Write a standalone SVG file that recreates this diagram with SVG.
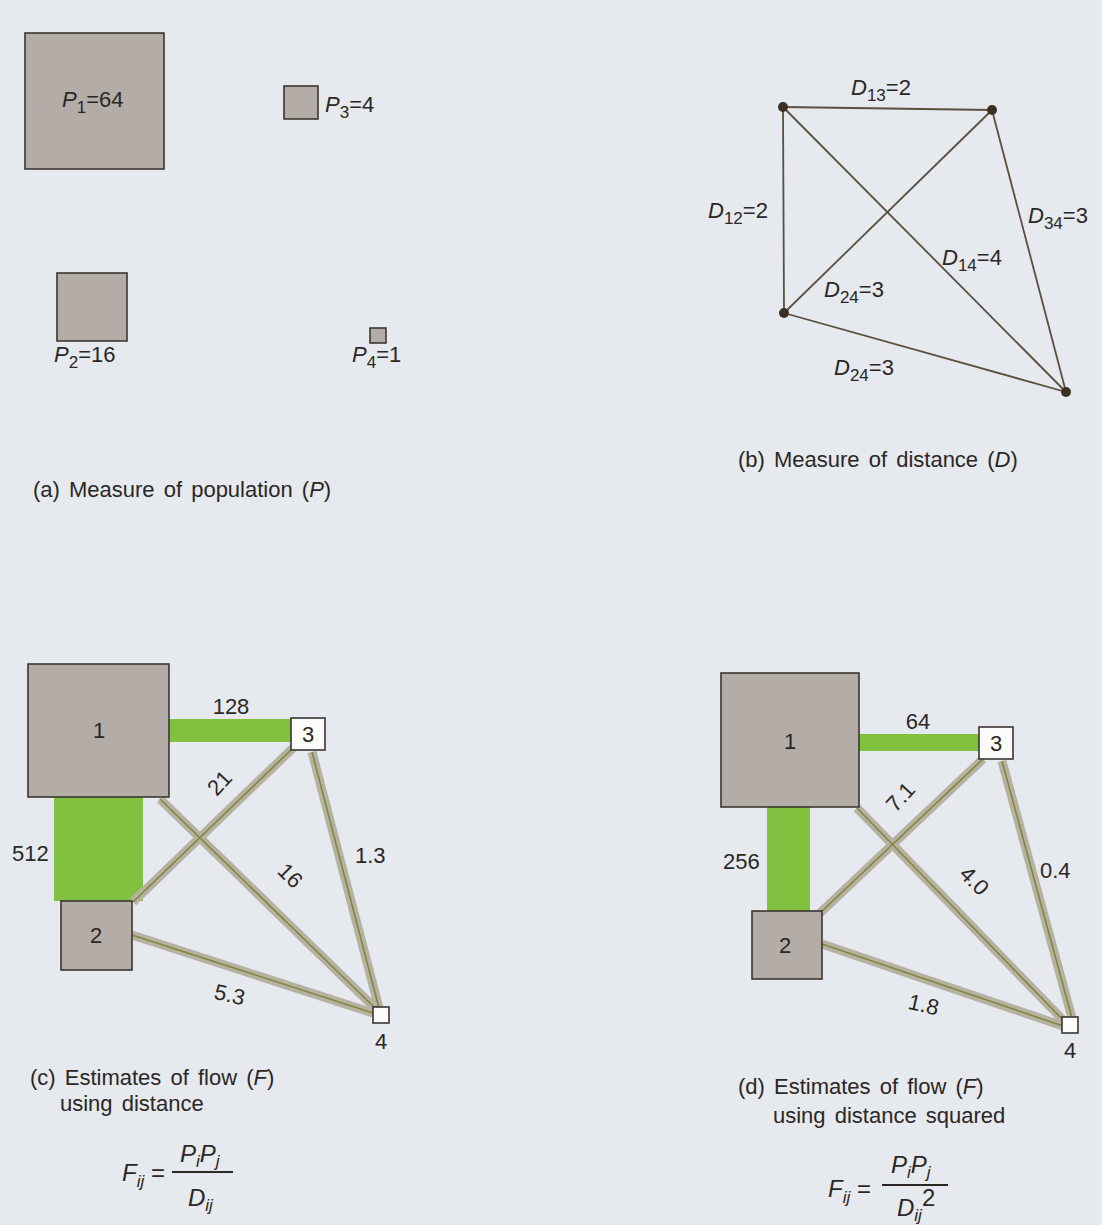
<svg xmlns="http://www.w3.org/2000/svg" width="1102" height="1225" viewBox="0 0 1102 1225">
<style>
text{font-family:"Liberation Sans",Arial,sans-serif;fill:#2b2724;font-size:22px}
.cap{word-spacing:3px}
.it{font-style:italic}
.sub{font-size:17px}
.pop{fill:#b4ada7;stroke:#3b3531;stroke-width:1.6}
.wht{fill:#fbfbfa;stroke:#3b3531;stroke-width:1.6}
.grn{fill:#80c23f}
.band{stroke:#b6b1a3;stroke-width:9;stroke-linecap:butt;fill:none}
.core{stroke:#7e8a3b;stroke-width:1.6;fill:none}
.dl{stroke:#5a4f40;stroke-width:1.8;fill:none}
.dot{fill:#3a3026}
.mid{text-anchor:middle}
.fm{font-size:24px}
</style>
<rect x="0" y="0" width="1102" height="1225" fill="#e6e9ee"/>

<!-- Panel (a) -->
<g id="a-P1"><rect class="pop" x="25" y="33" width="139" height="136"/><text x="62" y="107"><tspan class="it">P</tspan><tspan class="sub" dy="6">1</tspan><tspan dy="-6">=64</tspan></text></g>
<g id="a-P3"><rect class="pop" x="284" y="86" width="34" height="33"/><text x="325" y="112"><tspan class="it">P</tspan><tspan class="sub" dy="6">3</tspan><tspan dy="-6">=4</tspan></text></g>
<g id="a-P2"><rect class="pop" x="57" y="273" width="70" height="68"/><text x="54" y="362"><tspan class="it">P</tspan><tspan class="sub" dy="6">2</tspan><tspan dy="-6">=16</tspan></text></g>
<g id="a-P4"><rect class="pop" x="370" y="328" width="16" height="15"/><text x="352" y="362"><tspan class="it">P</tspan><tspan class="sub" dy="6">4</tspan><tspan dy="-6">=1</tspan></text></g>
<text id="a-caption" class="cap" x="33" y="497">(a) Measure of population (<tspan class="it">P</tspan>)</text>

<!-- Panel (b) -->
<g id="b-connectors">
<line class="dl" x1="783" y1="107" x2="992" y2="110"/>
<line class="dl" x1="783" y1="107" x2="784" y2="313"/>
<line class="dl" x1="783" y1="107" x2="1066" y2="392"/>
<line class="dl" x1="784" y1="313" x2="992" y2="110"/>
<line class="dl" x1="784" y1="313" x2="1066" y2="392"/>
<line class="dl" x1="992" y1="110" x2="1066" y2="392"/>
</g>
<g id="b-n1"><circle class="dot" cx="783" cy="107" r="5"/></g>
<g id="b-n3"><circle class="dot" cx="992" cy="110" r="5"/></g>
<g id="b-n2"><circle class="dot" cx="784" cy="313" r="5"/></g>
<g id="b-n4"><circle class="dot" cx="1066" cy="392" r="5"/></g>
<text x="851" y="95"><tspan class="it">D</tspan><tspan class="sub" dy="6">13</tspan><tspan dy="-6">=2</tspan></text>
<text x="708" y="218"><tspan class="it">D</tspan><tspan class="sub" dy="6">12</tspan><tspan dy="-6">=2</tspan></text>
<text x="1028" y="223"><tspan class="it">D</tspan><tspan class="sub" dy="6">34</tspan><tspan dy="-6">=3</tspan></text>
<text x="942" y="265"><tspan class="it">D</tspan><tspan class="sub" dy="6">14</tspan><tspan dy="-6">=4</tspan></text>
<text x="824" y="297"><tspan class="it">D</tspan><tspan class="sub" dy="6">24</tspan><tspan dy="-6">=3</tspan></text>
<text x="834" y="375"><tspan class="it">D</tspan><tspan class="sub" dy="6">24</tspan><tspan dy="-6">=3</tspan></text>
<text id="b-caption" class="cap" x="738" y="467">(b) Measure of distance (<tspan class="it">D</tspan>)</text>

<!-- Panel (c) -->
<g id="c-connectors">
<rect class="grn" x="54" y="797" width="89" height="104"/>
<rect class="grn" x="164" y="719" width="128" height="23"/>
<line class="band" x1="160" y1="799" x2="375" y2="1008"/>
<line class="band" x1="133" y1="902" x2="293" y2="748"/>
<line class="band" x1="132" y1="935" x2="373" y2="1013"/>
<line class="band" x1="312" y1="752" x2="379" y2="1008"/>
<line class="core" x1="160" y1="799" x2="375" y2="1008"/>
<line class="core" x1="133" y1="902" x2="293" y2="748"/>
<line class="core" x1="132" y1="935" x2="373" y2="1013"/>
<line class="core" x1="312" y1="752" x2="379" y2="1008"/>
</g>
<g id="c-n1"><rect class="pop" x="28" y="664" width="141" height="133"/><text class="mid" x="99" y="738">1</text></g>
<g id="c-n2"><rect class="pop" x="61" y="901" width="71" height="69"/><text class="mid" x="96" y="943">2</text></g>
<g id="c-n3"><rect class="wht" x="291" y="718" width="34" height="32"/><text class="mid" x="308" y="742">3</text></g>
<g id="c-n4"><rect class="wht" x="373" y="1007" width="16" height="16"/><text class="mid" x="381" y="1049">4</text></g>
<text class="mid" x="231" y="714">128</text>
<text x="12" y="861">512</text>
<text class="mid" transform="translate(225 788) rotate(-47)">21</text>
<text class="mid" transform="translate(285 881) rotate(45)">16</text>
<text x="355" y="863">1.3</text>
<text class="mid" transform="translate(228 1002) rotate(13)">5.3</text>
<text id="c-caption" class="cap" x="30" y="1085">(c) Estimates of flow (<tspan class="it">F</tspan>)</text>
<text class="cap" x="60" y="1111">using distance</text>
<g id="c-formula">
<text class="fm" x="122" y="1181"><tspan class="it">F</tspan><tspan class="sub it" dy="6">ij</tspan><tspan dy="-6"> =</tspan></text>
<line x1="172" y1="1172" x2="233" y2="1172" stroke="#2b2724" stroke-width="2"/>
<text class="fm" x="180" y="1162"><tspan class="it">P</tspan><tspan class="sub it" dy="5">i</tspan><tspan class="it" dy="-5">P</tspan><tspan class="sub it" dy="5">j</tspan></text>
<text class="fm" x="188" y="1206"><tspan class="it">D</tspan><tspan class="sub it" dy="5">ij</tspan></text>
</g>

<!-- Panel (d) -->
<g id="d-connectors">
<rect class="grn" x="767" y="807" width="43" height="104"/>
<rect class="grn" x="859" y="734" width="121" height="17"/>
<line class="band" x1="857" y1="808" x2="1065" y2="1022"/>
<line class="band" x1="820" y1="913" x2="983" y2="759"/>
<line class="band" x1="822" y1="944" x2="1063" y2="1026"/>
<line class="band" x1="1002" y1="761" x2="1072" y2="1018"/>
<line class="core" x1="857" y1="808" x2="1065" y2="1022"/>
<line class="core" x1="820" y1="913" x2="983" y2="759"/>
<line class="core" x1="822" y1="944" x2="1063" y2="1026"/>
<line class="core" x1="1002" y1="761" x2="1072" y2="1018"/>
</g>
<g id="d-n1"><rect class="pop" x="721" y="673" width="138" height="134"/><text class="mid" x="790" y="749">1</text></g>
<g id="d-n2"><rect class="pop" x="752" y="911" width="70" height="68"/><text class="mid" x="785" y="953">2</text></g>
<g id="d-n3"><rect class="wht" x="979" y="727" width="34" height="32"/><text class="mid" x="996" y="751">3</text></g>
<g id="d-n4"><rect class="wht" x="1062" y="1017" width="16" height="16"/><text class="mid" x="1070" y="1058">4</text></g>
<text class="mid" x="918" y="729">64</text>
<text x="723" y="869">256</text>
<text class="mid" transform="translate(906 802) rotate(-47)">7.1</text>
<text class="mid" transform="translate(969 886) rotate(45)">4.0</text>
<text x="1040" y="878">0.4</text>
<text class="mid" transform="translate(922 1012) rotate(13)">1.8</text>
<text id="d-caption" class="cap" x="738" y="1094">(d) Estimates of flow (<tspan class="it">F</tspan>)</text>
<text class="cap" x="773" y="1123">using distance squared</text>
<g id="d-formula">
<text class="fm" x="828" y="1197"><tspan class="it">F</tspan><tspan class="sub it" dy="6">ij</tspan><tspan dy="-6"> =</tspan></text>
<line x1="882" y1="1185" x2="948" y2="1185" stroke="#2b2724" stroke-width="2"/>
<text class="fm" x="891" y="1173"><tspan class="it">P</tspan><tspan class="sub it" dy="5">i</tspan><tspan class="it" dy="-5">P</tspan><tspan class="sub it" dy="5">j</tspan></text>
<text class="fm" x="897" y="1216"><tspan class="it">D</tspan><tspan class="sub it" dy="5">ij</tspan><tspan dy="-15">2</tspan></text>
</g>
</svg>
